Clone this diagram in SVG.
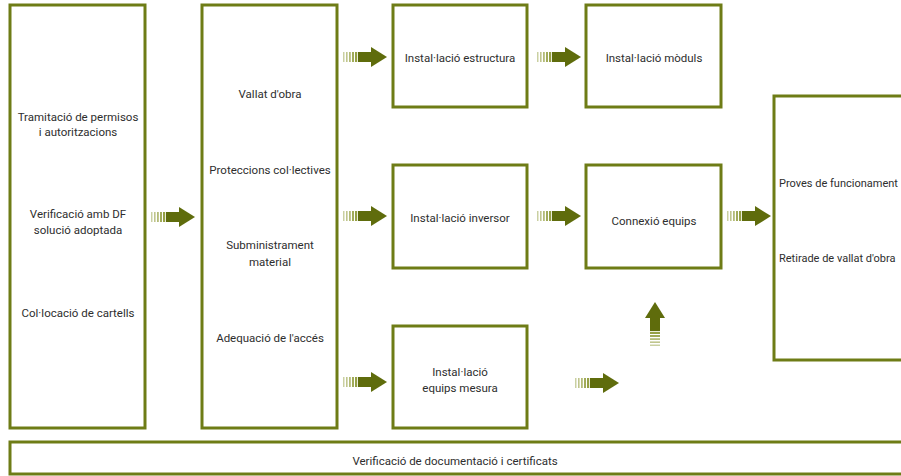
<svg xmlns="http://www.w3.org/2000/svg" width="901" height="476" viewBox="0 0 901 476">
<style>
.box{fill:#fff;stroke:#6e7c16;stroke-width:3}
.t{font-family:Roboto,"Liberation Sans",sans-serif;font-size:11.5px;fill:#2e2e2e;text-anchor:middle}
.tl{font-family:Roboto,"Liberation Sans",sans-serif;font-size:11px;fill:#2e2e2e}
.ar{fill:#5f6c0c}
.st{fill:#8a9630}
</style>
<defs>
<g id="arrow">
<rect class="st" x="0" y="-5" width="1.5" height="10" opacity="0.45"/>
<rect class="st" x="3" y="-5" width="1.6" height="10" opacity="0.55"/>
<rect class="st" x="6" y="-5" width="1.8" height="10" opacity="0.65"/>
<rect class="st" x="9" y="-5" width="2" height="10" opacity="0.8"/>
<rect class="st" x="12" y="-5" width="2.2" height="10" opacity="0.9"/>
<rect class="ar" x="15" y="-5" width="14" height="10"/>
<polygon class="ar" points="28,-10 44,0 28,10"/>
</g>
</defs>
<rect width="901" height="476" fill="#fff"/>
<g id="connectors">
<use href="#arrow" x="151" y="217"/>
<use href="#arrow" x="343" y="57"/>
<use href="#arrow" x="537" y="57"/>
<use href="#arrow" x="343" y="216"/>
<use href="#arrow" x="537" y="216"/>
<use href="#arrow" x="727" y="216"/>
<use href="#arrow" x="343" y="382"/>
<use href="#arrow" x="575" y="383"/>
<use href="#arrow" transform="translate(655,346) rotate(-90)"/>
</g>
<g id="n1">
<rect class="box" x="10" y="5" width="135" height="423"/>
<text class="t" x="78" y="121">Tramitació de permisos</text>
<text class="t" x="78" y="136">i autoritzacions</text>
<text class="t" x="78" y="218">Verificació amb DF</text>
<text class="t" x="78" y="234">solució adoptada</text>
<text class="t" x="78" y="317">Col·locació de cartells</text>
</g>
<g id="n2">
<rect class="box" x="202" y="5" width="135" height="423"/>
<text class="t" x="270" y="98">Vallat d'obra</text>
<text class="t" x="270" y="174">Proteccions col·lectives</text>
<text class="t" x="270" y="249">Subministrament</text>
<text class="t" x="270" y="266">material</text>
<text class="t" x="270" y="342">Adequació de l'accés</text>
</g>
<g id="n3">
<rect class="box" x="393" y="5" width="134" height="102"/>
<text class="t" x="460" y="62">Instal·lació estructura</text>
</g>
<g id="n4">
<rect class="box" x="586" y="5" width="135" height="102"/>
<text class="t" x="654" y="62">Instal·lació mòduls</text>
</g>
<g id="n5">
<rect class="box" x="393" y="165" width="134" height="103"/>
<text class="t" x="460" y="222">Instal·lació inversor</text>
</g>
<g id="n6">
<rect class="box" x="586" y="165" width="135" height="103"/>
<text class="t" x="654" y="225">Connexió equips</text>
</g>
<g id="n7">
<rect class="box" x="393" y="326" width="134" height="102"/>
<text class="t" x="460" y="376">Instal·lació</text>
<text class="t" x="460" y="392">equips mesura</text>
</g>
<g id="n8">
<rect class="box" x="774" y="96" width="140" height="264"/>
<text class="tl" x="779" y="187">Proves de funcionament</text>
<text class="tl" x="779" y="262">Retirade de vallat d'obra</text>
</g>
<g id="n9">
<rect class="box" x="10" y="442" width="905" height="32"/>
<text class="t" x="455" y="465">Verificació  de documentació i certificats</text>
</g>
</svg>
